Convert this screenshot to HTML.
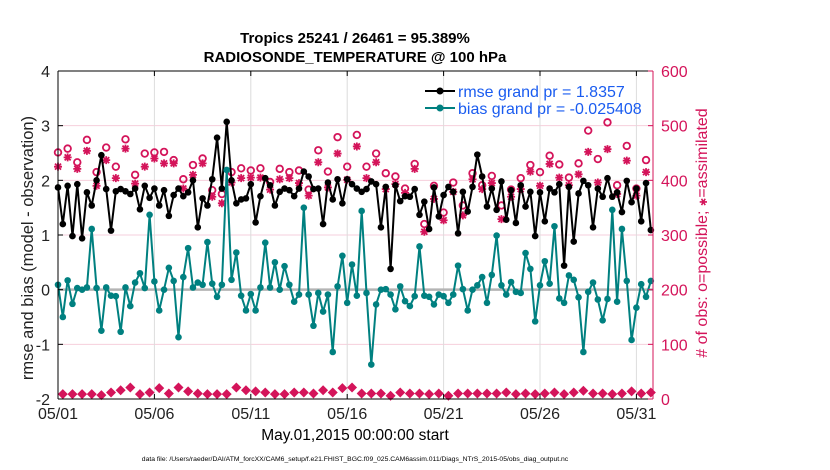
<!DOCTYPE html>
<html><head><meta charset="utf-8"><style>
body{margin:0;background:#fff}
svg{display:block;font-family:"Liberation Sans",sans-serif}
</style></head><body>
<svg id="chart" width="830" height="470" viewBox="0 0 830 470">
<g id="grid"></g>
<g id="marks"></g>
<g id="axes"></g>
<text x="355" y="43" text-anchor="middle" font-size="15" font-weight="bold">Tropics 25241 / 26461 = 95.389%</text>
<text x="355" y="62" text-anchor="middle" font-size="15" font-weight="bold">RADIOSONDE_TEMPERATURE @ 100 hPa</text>
<text x="355" y="440" text-anchor="middle" font-size="15.5">May.01,2015 00:00:00 start</text>
<text transform="translate(33,248) rotate(-90)" text-anchor="middle" font-size="16.5" fill="#222">rmse and bias (model - observation)</text>
<text transform="translate(707,233) rotate(-90)" text-anchor="middle" font-size="16" fill="#d4145a"># of obs: o=possible; <tspan font-size="10">✱</tspan>=assimilated</text>
<text x="355" y="461" text-anchor="middle" font-size="6.8">data file: /Users/raeder/DAI/ATM_forcXX/CAM6_setup/f.e21.FHIST_BGC.f09_025.CAM6assim.011/Diags_NTrS_2015-05/obs_diag_output.nc</text>
<g>
<line x1="425" y1="91" x2="455" y2="91" stroke="#000" stroke-width="2"/>
<circle cx="440" cy="91" r="3.5" fill="#000"/>
<text x="458" y="97" font-size="16" fill="#1a5cf0">rmse grand pr = 1.8357</text>
<line x1="425" y1="108" x2="455" y2="108" stroke="#008080" stroke-width="2"/>
<circle cx="440" cy="108" r="3.5" fill="#008080"/>
<text x="458" y="114" font-size="16" fill="#1a5cf0">bias grand pr = -0.025408</text>
</g>
</svg>
<script>
const rmse=[1.87,1.2,1.9,0.98,1.93,0.94,1.78,1.54,2.0,2.46,1.84,1.08,1.8,1.84,1.8,1.75,1.85,1.47,1.9,1.68,1.85,1.54,1.82,1.35,1.73,1.85,1.71,1.78,2.0,1.14,1.67,1.54,2.02,2.78,1.85,3.07,2.0,1.58,1.65,1.67,1.93,1.23,
1.71,2.04,1.91,1.54,1.79,1.85,1.82,1.71,1.85,2.16,2.07,1.84,1.85,1.2,1.96,1.65,2.02,1.58,2.02,1.93,1.85,1.79,1.84,1.98,1.93,1.14,1.88,0.38,1.91,1.62,1.71,1.70,1.84,1.37,1.61,1.11,1.87,1.34,1.73,1.88,1.79,1.03,
1.79,1.43,1.88,2.47,2.07,1.52,1.85,1.46,1.98,1.28,1.82,1.22,1.91,1.52,1.79,0.98,1.78,1.25,1.85,1.78,1.93,0.44,1.88,0.88,1.76,1.99,1.91,1.14,1.85,1.70,2.04,1.70,1.78,1.42,1.99,1.60,1.85,1.25,1.95,1.09];
const bias=[0.09,-0.5,0.17,-0.26,0.03,0,0.04,1.11,0.03,-0.75,0.04,-0.11,-0.12,-0.77,0.04,-0.3,0.13,0.3,0.03,1.37,0.15,-0.38,0,0.4,0.16,-0.87,0.23,0.76,0.04,0.13,0.09,0.87,0.11,-0.13,0.09,2.19,0.18,0.68,-0.11,-0.38,-0.08,-0.38,
0.04,0.86,0.04,0.5,0,0.43,0.09,-0.22,-0.09,1.5,-0.09,-0.66,-0.06,-0.4,-0.09,-1.14,0.06,0.62,-0.24,0.46,-0.11,1.44,-0.06,-1.37,-0.27,0,0.01,-0.09,-0.36,0.06,-0.21,-0.3,-0.12,0.79,-0.11,-0.13,-0.27,-0.09,-0.12,-0.24,-0.09,0.44,
0.01,-0.38,0,0.08,0.23,-0.24,0.27,0.99,0.08,-0.09,0.14,-0.04,-0.06,0.67,0.38,-0.58,0.08,0.52,0.11,1.16,-0.16,-0.24,0.26,0.18,-0.14,-1.14,-0.04,0.13,-0.18,-0.56,-0.17,1.46,-0.22,1.11,0.16,-0.92,-0.33,0.1,-0.13,0.16];
const possible=[451,458,433,474,415,460,425,475,410,449,451,452,437,402,428,440,382,375,415,422,418,422,
397,421,415,418,383,455,416,479,425,483,425,449,413,407,385,430,320,390,341,396,
354,413,391,408,354,383,404,428,415,445,429,405,431,491,439,506,391,463,385,437];
const assimilated=[425,442,421,454,390,437,404,458,394,425,440,431,431,385,410,431,370,358,396,404,405,405,
383,402,404,395,372,433,387,449,401,462,404,433,384,393,377,421,306,366,327,379,
336,402,384,395,329,370,384,416,390,430,405,391,411,452,396,457,375,436,372,415];
const lowCounts=[9,9,9,9,7,12,16,21,9,12,20,10,21,14,10,9,9,9,21,16,14,
12,9,9,12,12,10,16,12,20,21,10,10,10,6,12,10,10,9,10,6,10,
10,10,10,10,12,9,10,9,10,12,9,12,15,10,10,9,10,14,10,12];
const xTickLabels=["05/01","05/06","05/11","05/16","05/21","05/26","05/31"];
const yLeftTicks=[4,3,2,1,0,-1,-2];
const yRightTicks=[600,500,400,300,200,100,0];

const NS="http://www.w3.org/2000/svg";
const X0=58,X1=653,Y0=71,Y1=399,PXDAY=19.28;
const xs=d=>X0+d*PXDAY;
const yL=v=>Y0+(4-v)*(Y1-Y0)/6;
const yR=c=>Y1-c*(Y1-Y0)/600;
const CR="#d4145a";
function mk(tag,attrs,parent){const e=document.createElementNS(NS,tag);for(const k in attrs)e.setAttribute(k,attrs[k]);parent.appendChild(e);return e;}
const grid=document.getElementById('grid'),marks=document.getElementById('marks'),axes=document.getElementById('axes');

yRightTicks.forEach(c=>{const l=mk('line',{x1:X0,x2:X1,y1:yR(c),y2:yR(c),stroke:'#f6cfdc','stroke-width':1},grid);

});
xTickLabels.forEach((t,i)=>{const x=xs(i*5);const l=mk('line',{x1:x,x2:x,y1:Y0,y2:Y1,stroke:'#dcdcdc','stroke-width':1},grid);

});
const z=mk('line',{x1:X0,x2:X1,y1:yL(0),y2:yL(0),stroke:'#b4b4b4','stroke-width':2.5},grid);



function series(vals,color,name){
  const pts=vals.map((v,i)=>xs(i*0.25).toFixed(1)+','+yL(v).toFixed(1)).join(' ');
  const p=mk('polyline',{points:pts,fill:'none',stroke:color,'stroke-width':2,'stroke-linejoin':'round'},marks);
  
  
  vals.forEach((v,i)=>{const c=mk('circle',{cx:xs(i*0.25),cy:yL(v),r:3.3,fill:color},marks);
    
    });
}
possible.forEach((c,i)=>{const e=mk('circle',{cx:xs(i*0.5),cy:yR(c),r:3.3,fill:'none',stroke:CR,'stroke-width':1.8},marks);
  
  });
assimilated.forEach((c,i)=>{const x=xs(i*0.5),y=yR(c),r=4;
  const g=mk('path',{d:`M${x-r},${y}H${x+r}M${x},${y-r}V${y+r}M${x-3},${y-3}L${x+3},${y+3}M${x-3},${y+3}L${x+3},${y-3}`,stroke:CR,'stroke-width':1.8},marks);
  
  });
lowCounts.forEach((c,i)=>{const x=xs(0.25+i*0.5),y=yR(c),r=5;
  const g=mk('path',{d:`M${x},${y-r}L${x+r},${y}L${x},${y+r}L${x-r},${y}Z`,fill:CR},marks);
  
  });
series(rmse,'#000','rmse');
series(bias,'#008080','bias');

mk('line',{x1:X0,x2:X1,y1:Y0,y2:Y0,stroke:'#000','stroke-width':1},axes);
mk('line',{x1:X0,x2:X1,y1:Y1,y2:Y1,stroke:'#000','stroke-width':1},axes);
mk('line',{x1:X0,x2:X0,y1:Y0,y2:Y1,stroke:'#000','stroke-width':1},axes);
mk('line',{x1:X1,x2:X1,y1:Y0,y2:Y1,stroke:CR,'stroke-width':1},axes);
yLeftTicks.forEach(v=>{const y=yL(v);mk('line',{x1:X0,x2:X0+5,y1:y,y2:y,stroke:'#000'},axes);
  const t=mk('text',{x:50,y:y+6,'text-anchor':'end','font-size':16,fill:'#222'},axes);t.textContent=v;
  
  });
yRightTicks.forEach(c=>{const y=yR(c);mk('line',{x1:X1-5,x2:X1,y1:y,y2:y,stroke:CR},axes);
  const t=mk('text',{x:661,y:y+6,'font-size':16,fill:CR},axes);t.textContent=c;
  
  });
xTickLabels.forEach((s,i)=>{const x=xs(i*5);mk('line',{x1:x,x2:x,y1:Y1-5,y2:Y1,stroke:'#000'},axes);mk('line',{x1:x,x2:x,y1:Y0,y2:Y0+5,stroke:'#000'},axes);
  const t=mk('text',{x:x,y:419,'text-anchor':'middle','font-size':16,fill:'#222'},axes);t.textContent=s;
  
  });
</script>
</body></html>
